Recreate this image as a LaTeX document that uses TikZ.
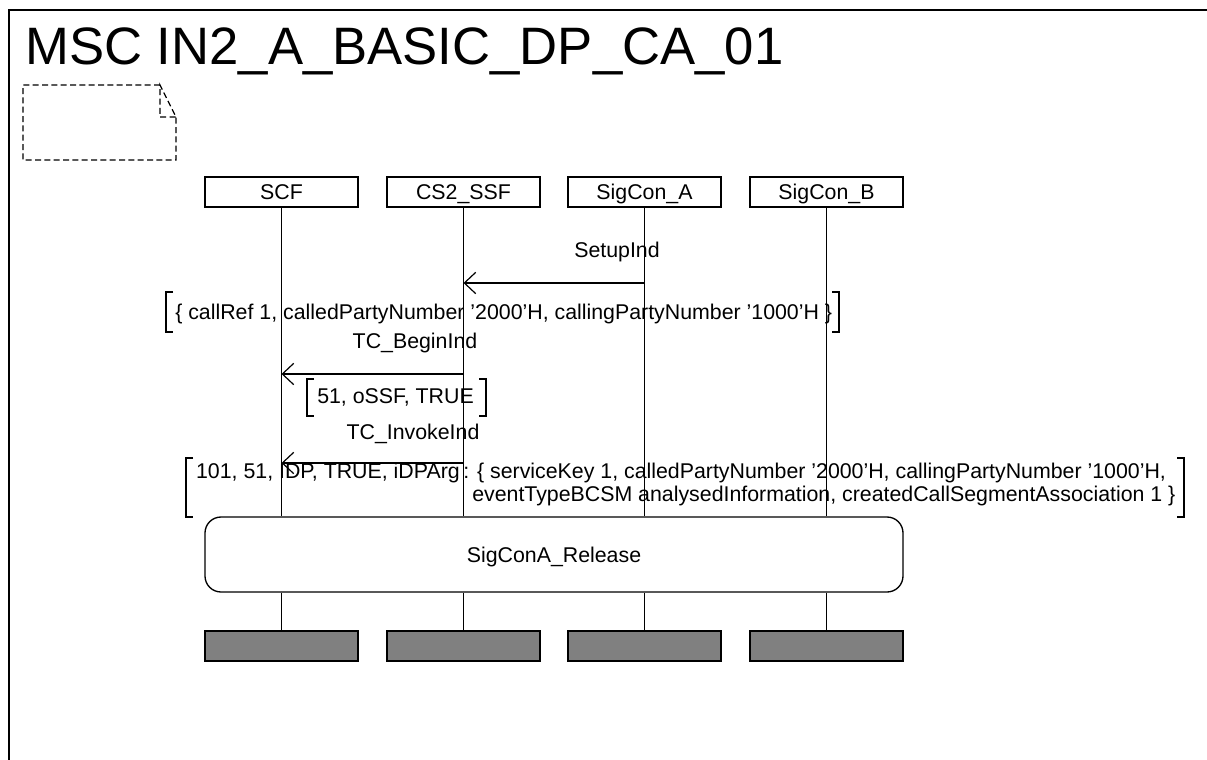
\documentclass[tikz,border=0pt]{standalone}
\usepackage{fontspec}
\setmainfont{Liberation Sans}
\usetikzlibrary{arrows.meta}
\begin{document}
\begin{tikzpicture}[x=0.75pt,y=-0.75pt,
  every node/.style={font=\fontsize{16}{15}\selectfont, inner sep=0pt},
  inst/.style={draw, line width=0.9pt, minimum width=114.75pt, minimum height=22.5pt, text height=11.5pt, text depth=0pt},
  endbar/.style={draw, fill=black!50, line width=1.3pt, minimum width=114.75pt, minimum height=22.5pt},
  life/.style={line width=0.9pt},
  msg/.style={line width=0.9pt, -{Straight Barb[length=8.5pt,width=16pt,line width=0.9pt]}},
  brk/.style={line width=1.3pt},
  refbox/.style={draw, line width=1pt, rounded corners=12pt, minimum width=523.5pt, minimum height=56.25pt, text height=11.5pt, text depth=0pt},
  note/.style={line width=0.9pt, dash pattern=on 4.5pt off 2.5pt}]
\useasboundingbox (0,0) rectangle (1207,760);
\clip (0,0) rectangle (1207,760);
% frame
\draw[line width=1.1pt] (9,10) rectangle (1240,800);
\node[anchor=base west, font=\fontsize{39.5}{44}\selectfont] (title) at (25,64) {MSC IN2\_A\_BASIC\_DP\_CA\_01};
% comment note
\draw[note] (160,85) -- (23,85) -- (23,160) -- (176,160) -- (176,117) -- (160,85) -- (160,117) -- (176,117);
% instance heads
\node[inst] (h1) at (281.5,192) {SCF};
\node[inst] (h2) at (463.5,192) {CS2\_SSF};
\node[inst] (h3) at (644.5,192) {SigCon\_A};
\node[inst] (h4) at (826.5,192) {SigCon\_B};
% reference
\node[refbox, fill=white] (ref) at (554,554.5) {SigConA\_Release};
% end bars
\node[endbar] (e1) at (281.5,646) {};
\node[endbar] (e2) at (463.5,646) {};
\node[endbar] (e3) at (644.5,646) {};
\node[endbar] (e4) at (826.5,646) {};
% lifelines
\foreach \i in {1,2,3,4}{
  \draw[life] (h\i.south) -- (h\i.south |- ref.north);
  \draw[life] (h\i.south |- ref.south) -- (e\i.north);
}
% message coordinates
\coordinate (s3) at (h3.south |- 0,283);
\coordinate (s2) at (h2.south |- 0,283);
\coordinate (b2) at (h2.south |- 0,374);
\coordinate (b1) at (h1.south |- 0,374);
\coordinate (i2) at (h2.south |- 0,463);
\coordinate (i1) at (h1.south |- 0,463);
% SetupInd
\draw[msg] (s3) -- (s2);
\node[anchor=base] (l1) at (617,257) {SetupInd};
\node[anchor=base west] (p1) at (175,319) {\{ callRef 1, calledPartyNumber ’2000’H, callingPartyNumber ’1000’H \}};
\draw[brk] (173,292) -- (166,292) -- (166,332) -- (173,332);
\draw[brk] (832,292) -- (839,292) -- (839,332) -- (832,332);
% TC_BeginInd
\draw[msg] (b2) -- (b1);
\node[anchor=base] (l2) at (415,348) {TC\_BeginInd};
\node[anchor=base west] (p2) at (317,403) {51, oSSF, TRUE};
\draw[brk] (314,379) -- (307,379) -- (307,416) -- (314,416);
\draw[brk] (479,379) -- (486,379) -- (486,416) -- (479,416);
% TC_InvokeInd
\draw[msg] (i2) -- (i1);
\node[anchor=base] (l3) at (413,439) {TC\_InvokeInd};
\node[anchor=base east] (p3a) at (460,478) {101, 51, IDP, TRUE, iDPArg};
\node[anchor=base west] (p3b) at (463,478) {: \{ serviceKey 1, calledPartyNumber ’2000’H, callingPartyNumber ’1000’H,};
\node[anchor=base west] (p3c) at (472,501) {eventTypeBCSM analysedInformation, createdCallSegmentAssociation 1 \}};
\draw[brk] (193,458) -- (186,458) -- (186,517) -- (193,517);
\draw[brk] (1177,458) -- (1184,458) -- (1184,517) -- (1177,517);
\end{tikzpicture}
\end{document}
